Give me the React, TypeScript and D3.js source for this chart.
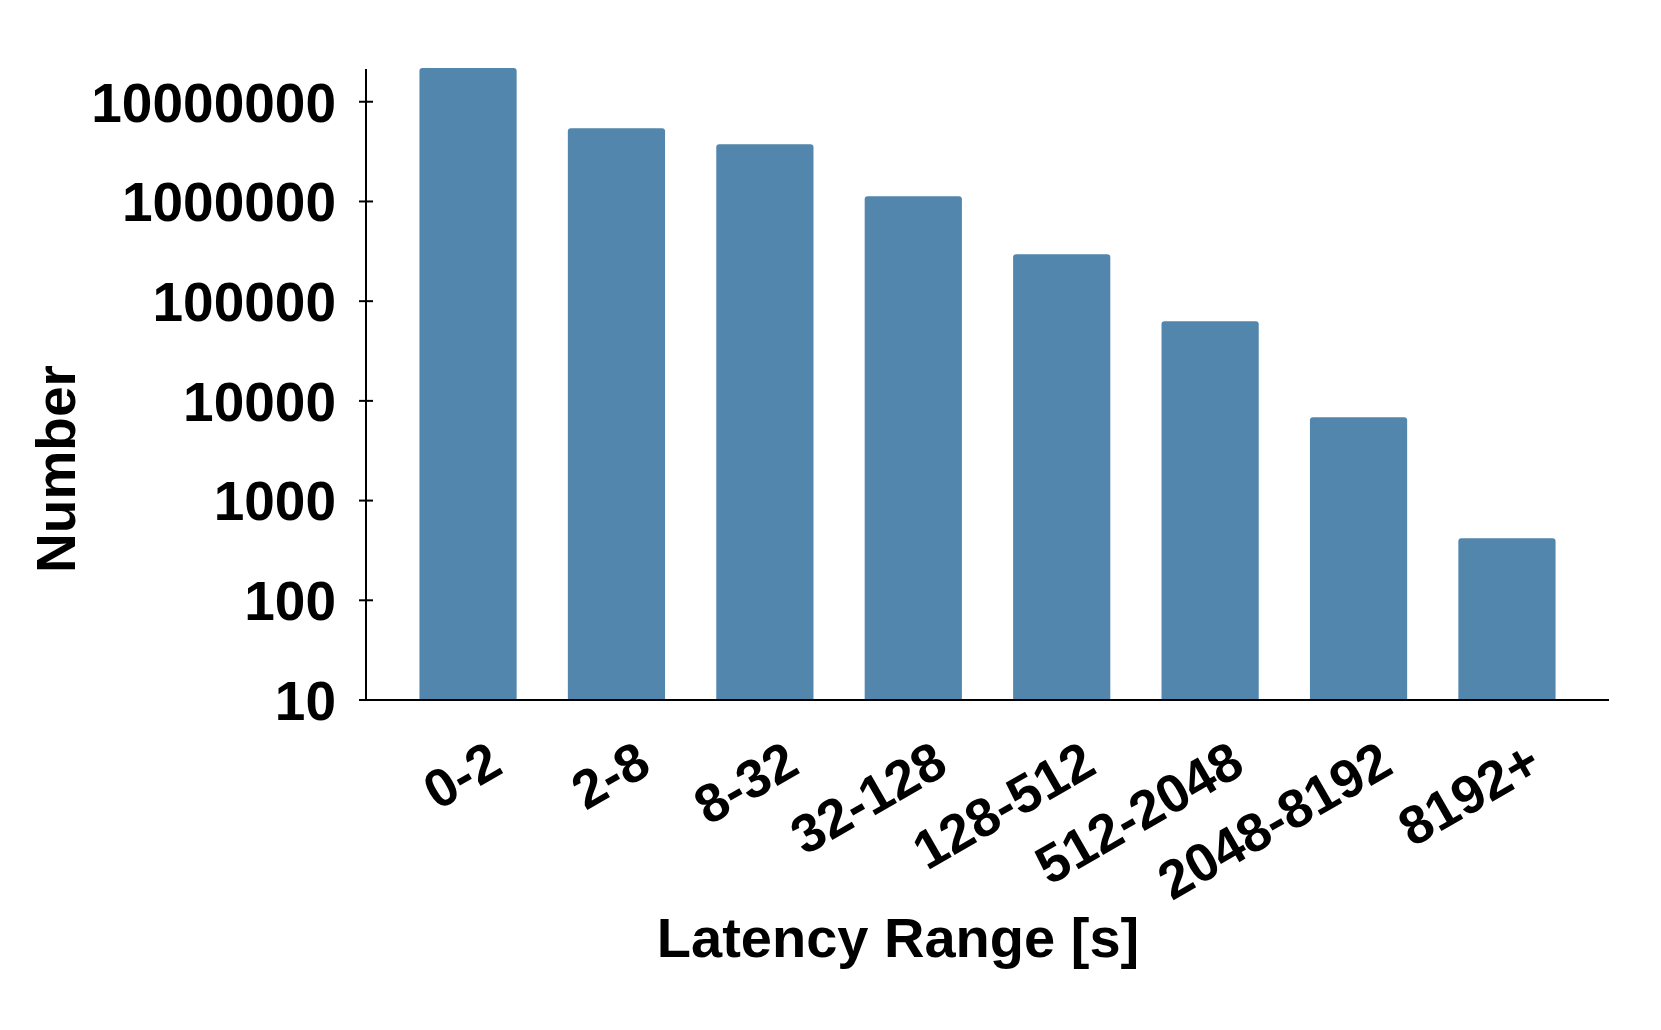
import React from 'react';
import * as d3 from 'd3';

// latency buckets and their request counts
const categories = ['0-2', '2-8', '8-32', '32-128', '128-512', '512-2048', '2048-8192', '8192+'];
const counts = [21800000, 5410000, 3740000, 1130000, 295000, 62800, 6840, 418];
const yTicks = [10, 100, 1000, 10000, 100000, 1000000, 10000000];

const W = 1661;
const H = 1030;
const FONT = '"Liberation Sans", Arial, Helvetica, sans-serif';
const BAR = '#5286ad';

// bar with rounded top corners only
const barPath = (x: number, y: number, w: number, h: number, r: number) =>
  `M${x},${y + h}V${y + r}Q${x},${y} ${x + r},${y}H${x + w - r}Q${x + w},${y} ${x + w},${y + r}V${y + h}Z`;

const App = () => {
  const left = 366;
  const right = 1609;
  const bottom = 700;
  const top = 68;

  const x = d3.scaleBand<string>()
    .domain(categories)
    .range([left, right])
    .paddingInner(0.345)
    .paddingOuter(0.36);

  const y = d3.scaleLog()
    .domain([10, d3.max(counts) as number])
    .range([bottom, top]);

  return (
    <svg
      width={W}
      height={H}
      style={{ position: 'absolute', left: 0, top: 0, background: '#fff' }}
      fontFamily={FONT}
      fontWeight="bold"
    >
      {/* bars */}
      {categories.map((c, i) => (
        <path
          key={c}
          d={barPath(x(c) as number, y(counts[i]), x.bandwidth(), bottom - y(counts[i]), 3)}
          fill={BAR}
        />
      ))}

      {/* y axis */}
      <line x1={left} x2={left} y1={top + 1} y2={bottom} stroke="#000" strokeWidth={2} />
      {yTicks.map((t) => (
        <g key={t} transform={`translate(0,${y(t)})`}>
          <line x1={left - 7} x2={left + 7} stroke="#000" strokeWidth={2} />
          <text x={left - 30} dy="0.36em" textAnchor="end" fontSize={55} fill="#000">
            {t}
          </text>
        </g>
      ))}

      {/* x axis */}
      <line x1={left - 7} x2={right} y1={bottom} y2={bottom} stroke="#000" strokeWidth={2} />
      {categories.map((c) => {
        const cx = (x(c) as number) + x.bandwidth() / 2;
        return (
          <text
            key={c}
            transform={`translate(${cx + 37},${bottom + 72}) rotate(-30)`}
            textAnchor="end"
            fontSize={54}
            fill="#000"
          >
            {c}
          </text>
        );
      })}

      {/* titles */}
      <text x={898} y={957} textAnchor="middle" fontSize={56} fill="#000">
        Latency Range [s]
      </text>
      <text transform="translate(75,469) rotate(-90)" textAnchor="middle" fontSize={55} fill="#000">
        Number
      </text>
    </svg>
  );
};

export default App;
